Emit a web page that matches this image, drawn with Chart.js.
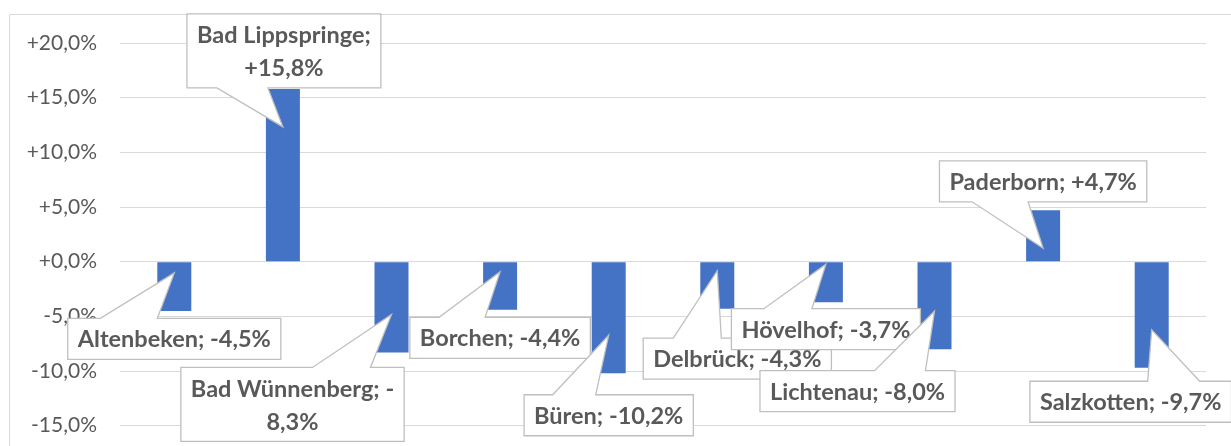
<!DOCTYPE html>
<html>
<head>
<meta charset="utf-8">
<script src="https://cdn.jsdelivr.net/npm/chart.js@4"></script>
<style>
  html, body { margin: 0; padding: 0; background: #fff; overflow: hidden; }
  canvas { display: block; }
</style>
</head>
<body>
<canvas id="grafico" width="1231" height="516"></canvas>
<script>
// Gemeinden und Veränderung in Prozent
const orte = ['Altenbeken', 'Bad Lippspringe', 'Bad Wünnenberg', 'Borchen', 'Büren',
  'Delbrück', 'Hövelhof', 'Lichtenau', 'Paderborn', 'Salzkotten'];
const veraenderung = [-4.5, 15.8, -8.3, -4.4, -10.2, -4.3, -3.7, -8.0, 4.7, -9.7];
const yMin = -20;
const yMax = 20;
const yStep = 5;

// Lage der Beschriftungen (Versatz in px zum Balkenende)
const calloutLayout = [
  { dx: 0, dy: 28, base: [-74, -17], maxW: null },
  { dx: 1, dy: -38, base: [-67, -16], maxW: 195 },
  { dx: -99, dy: 52, base: [20, 78], maxW: 225 },
  { dx: 0, dy: 28, base: [-61, -15], maxW: null },
  { dx: 0, dy: 42, base: [-56, -13], maxW: null },
  { dx: 20, dy: 50, base: [-64, -16], maxW: null },
  { dx: 0, dy: 27, base: [-62, -14], maxW: null },
  { dx: -77, dy: 42, base: [17, 68], maxW: null },
  { dx: 0, dy: -29, base: [-71, -15], maxW: null },
  { dx: -21, dy: 34, base: [17, 69], maxW: null },
];

const fmt = v => (v >= 0 ? '+' : '') + v.toFixed(1).replace('.', ',') + '%';

const umbrechen = (ctx, text, maxW) => {
  if (!maxW) return [text];
  const teile = text.split(/(?<=[ -])/);
  const zeilen = [];
  let akt = '';
  teile.forEach(t => {
    if (akt && ctx.measureText((akt + t).trim()).width > maxW) {
      zeilen.push(akt.trim());
      akt = t;
    } else {
      akt += t;
    }
  });
  if (akt) zeilen.push(akt.trim());
  return zeilen;
};

// Rahmen um das Diagramm
const rahmenPlugin = {
  id: 'rahmen',
  beforeDraw(chart) {
    const ctx = chart.ctx;
    ctx.save();
    ctx.strokeStyle = '#d9d9d9';
    ctx.lineWidth = 1;
    ctx.beginPath();
    ctx.moveTo(9.5, chart.height);
    ctx.lineTo(9.5, 14.5);
    ctx.lineTo(chart.width, 14.5);
    ctx.stroke();
    ctx.restore();
  }
};

// Beschriftungen als Sprechblasen
const calloutPlugin = {
  id: 'callouts',
  afterDatasetsDraw(chart) {
    const ctx = chart.ctx;
    const meta = chart.getDatasetMeta(0);
    ctx.save();
    ctx.font = 'bold 23.5px Lato';
    meta.data.forEach((bar, i) => {
      const lay = calloutLayout[i];
      const v = veraenderung[i];
      const zeilen = umbrechen(ctx, orte[i] + '; ' + fmt(v), lay.maxW);
      const tw = Math.max(...zeilen.map(z => ctx.measureText(z).width));
      const w = tw + 20;
      const h = zeilen.length * 33 + 8;
      const cx = bar.x + lay.dx;
      const cy = bar.y + lay.dy;
      const l = cx - w / 2, r = cx + w / 2, t = cy - h / 2, b = cy + h / 2;
      const tipX = bar.x;
      const tipY = bar.y + (v < 0 ? -38 : 38);

      ctx.beginPath();
      if (lay.dy > 0) {
        ctx.moveTo(l, t);
        ctx.lineTo(cx + lay.base[0], t);
        ctx.lineTo(tipX, tipY);
        ctx.lineTo(cx + lay.base[1], t);
        ctx.lineTo(r, t);
        ctx.lineTo(r, b);
        ctx.lineTo(l, b);
      } else {
        ctx.moveTo(l, t);
        ctx.lineTo(r, t);
        ctx.lineTo(r, b);
        ctx.lineTo(cx + lay.base[1], b);
        ctx.lineTo(tipX, tipY);
        ctx.lineTo(cx + lay.base[0], b);
        ctx.lineTo(l, b);
      }
      ctx.closePath();
      ctx.fillStyle = '#ffffff';
      ctx.fill();
      ctx.strokeStyle = '#bfbfbf';
      ctx.lineWidth = 1.3;
      ctx.stroke();

      ctx.fillStyle = '#595959';
      ctx.textAlign = 'center';
      ctx.textBaseline = 'middle';
      zeilen.forEach((z, j) => {
        ctx.fillText(z, cx, cy + (j - (zeilen.length - 1) / 2) * 33 + 1);
      });
    });
    ctx.restore();
  }
};

const ctxGrafico = document.getElementById('grafico').getContext('2d');

new Chart(ctxGrafico, {
  type: 'bar',
  data: {
    labels: orte,
    datasets: [{
      label: 'Veränderung',
      data: veraenderung,
      backgroundColor: '#4472c4',
      barPercentage: 0.313,
      categoryPercentage: 1,
    }],
  },
  options: {
    responsive: false,
    animation: false,
    layout: {
      padding: { top: 43, right: 25, bottom: 19, left: 0 }
    },
    scales: {
      x: { display: false },
      y: {
        min: yMin,
        max: yMax,
        afterFit: scale => { scale.width = 120; },
        border: { display: false },
        grid: { color: '#d9d9d9', drawTicks: false, lineWidth: 1 },
        ticks: {
          stepSize: yStep,
          padding: 23,
          color: '#595959',
          font: { family: 'Lato', size: 21 },
          callback: v => fmt(v)
        }
      }
    },
    plugins: {
      legend: { display: false },
      tooltip: { enabled: false }
    }
  },
  plugins: [rahmenPlugin, calloutPlugin]
});
</script>
</body>
</html>
